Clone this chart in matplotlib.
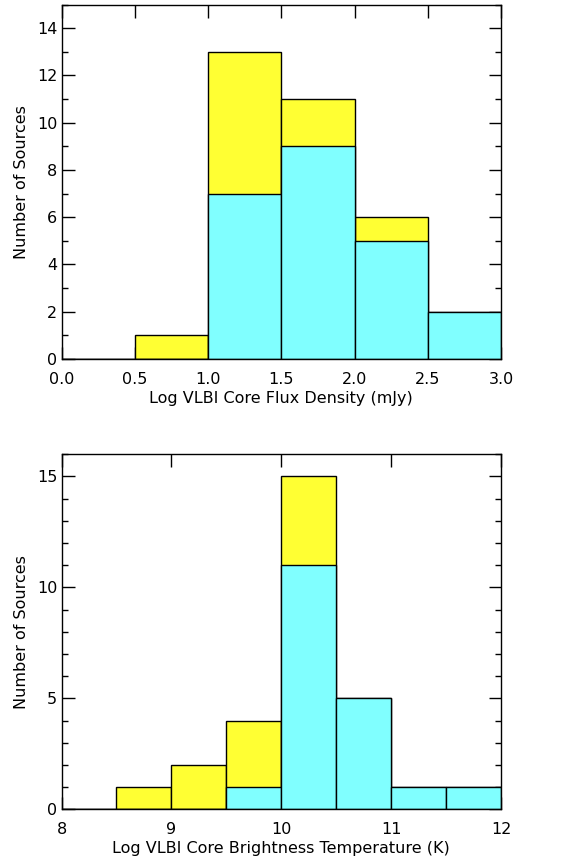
import numpy as np
import matplotlib
matplotlib.use('Agg')
import matplotlib.pyplot as plt
from matplotlib.ticker import MultipleLocator, FormatStrFormatter

# Top panel: Log VLBI core flux density bins
flux_edges = [0.0, 0.5, 1.0, 1.5, 2.0, 2.5, 3.0]
flux_total = [0, 1, 13, 11, 6, 2]
flux_cyan = [0, 0, 7, 9, 5, 2]

# Bottom panel: Log VLBI core brightness temperature bins
tb_edges = [8.0, 8.5, 9.0, 9.5, 10.0, 10.5, 11.0, 11.5, 12.0]
tb_total = [0, 1, 2, 4, 15, 5, 1, 1]
tb_cyan = [0, 0, 0, 1, 11, 5, 1, 1]

yellow = '#FFFF33'
cyan = '#80FFFF'

plt.rcParams['font.family'] = 'DejaVu Sans'
plt.rcParams['font.size'] = 11.5

fig = plt.figure(figsize=(5.71, 8.61), dpi=100)
W, H = 571.0, 861.0
ax1 = fig.add_axes([61.5 / W, 1 - 359 / H, (501 - 61.5) / W, (359 - 4.5) / H])
ax2 = fig.add_axes([61.5 / W, 1 - 809.3 / H, (501 - 61.5) / W, (809.3 - 454.3) / H])


def draw_hist(ax, edges, total, cyan_vals):
    edges = np.array(edges)
    lefts = edges[:-1]
    widths = np.diff(edges)
    ax.bar(lefts, total, width=widths, align='edge', color=yellow,
           edgecolor='black', linewidth=1.0, zorder=2)
    ax.bar(lefts, cyan_vals, width=widths, align='edge', color=cyan,
           edgecolor='black', linewidth=1.0, zorder=3)


draw_hist(ax1, flux_edges, flux_total, flux_cyan)
draw_hist(ax2, tb_edges, tb_total, tb_cyan)

# Top panel axes
ax1.set_xlim(0, 3)
ax1.set_ylim(0, 15)
ax1.xaxis.set_major_locator(MultipleLocator(0.5))
ax1.xaxis.set_major_formatter(FormatStrFormatter('%.1f'))
ax1.yaxis.set_major_locator(MultipleLocator(2))
ax1.yaxis.set_minor_locator(MultipleLocator(1))
ax1.set_xlabel('Log VLBI Core Flux Density (mJy)')
ax1.set_ylabel('Number of Sources')

# Bottom panel axes
ax2.set_xlim(8, 12)
ax2.set_ylim(0, 16)
ax2.xaxis.set_major_locator(MultipleLocator(1))
ax2.yaxis.set_major_locator(MultipleLocator(5))
ax2.yaxis.set_minor_locator(MultipleLocator(1))
ax2.set_xlabel('Log VLBI Core Brightness Temperature (K)')
ax2.set_ylabel('Number of Sources')

for ax in (ax1, ax2):
    for s in ax.spines.values():
        s.set_linewidth(1.0)
        s.set_zorder(5)
    ax.tick_params(which='both', direction='in', top=True, right=True, width=1.0)
    ax.tick_params(which='major', length=9)
    ax.tick_params(which='minor', length=4.5)
    ax.tick_params(axis='x', which='minor', length=0)
    ax.tick_params(axis='x', pad=9)
    ax.tick_params(axis='y', pad=3)
    ax.xaxis.labelpad = 3
    ax.yaxis.labelpad = 6

fig.savefig('out.png', dpi=100)
